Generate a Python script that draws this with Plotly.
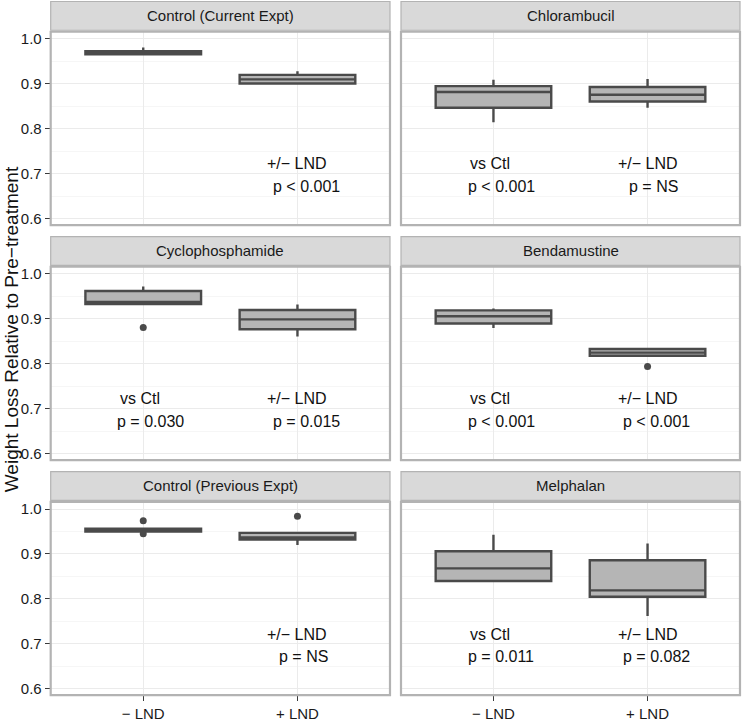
import plotly.graph_objects as go

W, H = 742, 722

panels = ["Control (Current Expt)", "Chlorambucil", "Cyclophosphamide",
          "Bendamustine", "Control (Previous Expt)", "Melphalan"]
groups = ["\u2212 LND", "+ LND"]

# five-number summaries (− LND group)
minus_lower = [0.965, 0.815, 0.932, 0.880, 0.950, 0.840]
minus_q1 = [0.966, 0.847, 0.933, 0.890, 0.950, 0.840]
minus_median = [0.969, 0.882, 0.938, 0.906, 0.953, 0.868]
minus_q3 = [0.973, 0.895, 0.962, 0.919, 0.956, 0.906]
minus_upper = [0.981, 0.909, 0.972, 0.923, 0.956, 0.943]

# (+ LND group)
plus_lower = [0.900, 0.847, 0.861, 0.817, 0.920, 0.762]
plus_q1 = [0.901, 0.861, 0.877, 0.818, 0.932, 0.805]
plus_median = [0.910, 0.876, 0.899, 0.825, 0.937, 0.819]
plus_q3 = [0.920, 0.893, 0.920, 0.833, 0.947, 0.886]
plus_upper = [0.928, 0.911, 0.932, 0.835, 0.947, 0.923]

# outliers: (panel index, group index, value)
outlier_panel = [2, 3, 4, 4, 4]
outlier_group = [0, 1, 0, 0, 1]
outlier_value = [0.881, 0.794, 0.974, 0.945, 0.984]

vs_ctl_p = [None, "p < 0.001", "p = 0.030", "p < 0.001", None, "p = 0.011"]
lnd_p = ["p < 0.001", "p = NS", "p = 0.015", "p < 0.001", "p = NS", "p = 0.082"]

FONT = "Liberation Sans, Arial, sans-serif"
BOX_FILL = "#B5B5B5"
BOX_LINE = "#4A4A4A"
BORDER = "#B3B3B3"
STRIP_FILL = "#D9D9D9"

# pixel layout
col_x = [(50.7, 390.0), (401.0, 740.0)]
row_top = [31.0, 268.0, 505.0]
panel_h = 195.0
strip_h = 30.0

fig = go.Figure()
shapes = []
annotations = []

for i, name in enumerate(panels):
    r, c = divmod(i, 2)
    k = i + 1
    xa = "x" if k == 1 else f"x{k}"
    ya = "y" if k == 1 else f"y{k}"
    x0, x1 = col_x[c]
    top = row_top[r]
    bot = top + panel_h

    xaxis = dict(
        domain=[x0 / W, x1 / W], anchor=ya, range=[0.4, 2.6],
        tickvals=[1, 2], ticktext=groups, showgrid=True, gridcolor="#EBEBEB",
        gridwidth=1, zeroline=False, showline=False,
        ticks="outside" if r == 2 else "", ticklen=5, tickcolor="#3A3A3A",
        tickwidth=1.4,
        showticklabels=(r == 2),
        tickfont=dict(family=FONT, size=15, color="#1A1A1A"),
    )
    yaxis = dict(
        domain=[1 - bot / H, 1 - top / H], anchor=xa, range=[0.586, 1.016],
        tick0=0, dtick=0.1, tickformat=".1f", showgrid=True,
        gridcolor="#EBEBEB", gridwidth=1, zeroline=False, showline=False,
        minor=dict(dtick=0.05, showgrid=True, gridcolor="#F6F6F6", gridwidth=1),
        ticks="outside" if c == 0 else "", ticklen=5, tickcolor="#3A3A3A",
        tickwidth=1.4,
        showticklabels=(c == 0),
        tickfont=dict(family=FONT, size=15, color="#1A1A1A"),
    )
    fig.layout[("xaxis" if k == 1 else f"xaxis{k}")] = xaxis
    fig.layout[("yaxis" if k == 1 else f"yaxis{k}")] = yaxis

    stats = [
        (minus_lower[i], minus_q1[i], minus_median[i], minus_q3[i], minus_upper[i]),
        (plus_lower[i], plus_q1[i], plus_median[i], plus_q3[i], plus_upper[i]),
    ]
    for g, (lo, q1, med, q3, hi) in enumerate(stats):
        fig.add_trace(go.Box(
            x=[g + 1], q1=[q1], median=[med], q3=[q3],
            lowerfence=[lo], upperfence=[hi],
            width=0.75, whiskerwidth=0, boxpoints=False,
            fillcolor=BOX_FILL, line=dict(color=BOX_LINE, width=2.4),
            xaxis=xa, yaxis=ya, showlegend=False, hoverinfo="skip",
        ))

    ox = [outlier_group[j] + 1 for j in range(len(outlier_value)) if outlier_panel[j] == i]
    oy = [outlier_value[j] for j in range(len(outlier_value)) if outlier_panel[j] == i]
    if ox:
        fig.add_trace(go.Scatter(
            x=ox, y=oy, mode="markers", xaxis=xa, yaxis=ya,
            marker=dict(color="#4A4A4A", size=7), showlegend=False,
            hoverinfo="skip",
        ))

    # panel border
    shapes.append(dict(type="rect", xref="paper", yref="paper",
                       x0=x0 / W, x1=x1 / W, y0=1 - bot / H, y1=1 - top / H,
                       line=dict(color=BORDER, width=2.2), fillcolor="rgba(0,0,0,0)",
                       layer="above"))
    # strip
    s_bot = top - 1.5
    s_top = s_bot - strip_h + 1
    shapes.append(dict(type="rect", xref="paper", yref="paper",
                       x0=x0 / W, x1=x1 / W, y0=1 - s_bot / H, y1=1 - s_top / H,
                       line=dict(color=BORDER, width=1.2), fillcolor=STRIP_FILL,
                       layer="below"))
    annotations.append(dict(xref="paper", yref="paper", x=(x0 + x1) / 2 / W,
                            y=1 - (s_top + s_bot) / 2 / H, text=name,
                            showarrow=False, xanchor="center", yanchor="middle",
                            font=dict(family=FONT, size=15, color="#1A1A1A")))

    # p-value labels
    xr = xa
    yr = ya
    if vs_ctl_p[i] is not None:
        annotations.append(dict(xref=xr, yref=yr, x=0.98, y=0.722, text="vs Ctl",
                                showarrow=False, xanchor="center", yanchor="middle",
                                font=dict(family=FONT, size=16, color="#111111")))
        annotations.append(dict(xref=xr, yref=yr, x=1.05, y=0.671, text=vs_ctl_p[i],
                                showarrow=False, xanchor="center", yanchor="middle",
                                font=dict(family=FONT, size=16, color="#111111")))
    annotations.append(dict(xref=xr, yref=yr, x=2.0, y=0.722, text="+/\u2212 LND",
                            showarrow=False, xanchor="center", yanchor="middle",
                            font=dict(family=FONT, size=16, color="#111111")))
    annotations.append(dict(xref=xr, yref=yr, x=2.04 if "NS" in lnd_p[i] else 2.06,
                            y=0.671, text=lnd_p[i],
                            showarrow=False, xanchor="center", yanchor="middle",
                            font=dict(family=FONT, size=16, color="#111111")))

annotations.append(dict(xref="paper", yref="paper", x=11 / W, y=1 - 331 / H,
                        text="Weight Loss Relative to Pre\u2212treatment",
                        textangle=-90, showarrow=False, xanchor="center",
                        yanchor="middle",
                        font=dict(family=FONT, size=19, color="#111111")))

fig.update_layout(
    width=W, height=H, margin=dict(l=0, r=0, t=0, b=0),
    paper_bgcolor="white", plot_bgcolor="white",
    shapes=shapes, annotations=annotations, showlegend=False,
    font=dict(family=FONT),
)

fig.write_html("out.html", config={"displayModeBar": False},
               post_script="document.body.style.margin='0px';")
